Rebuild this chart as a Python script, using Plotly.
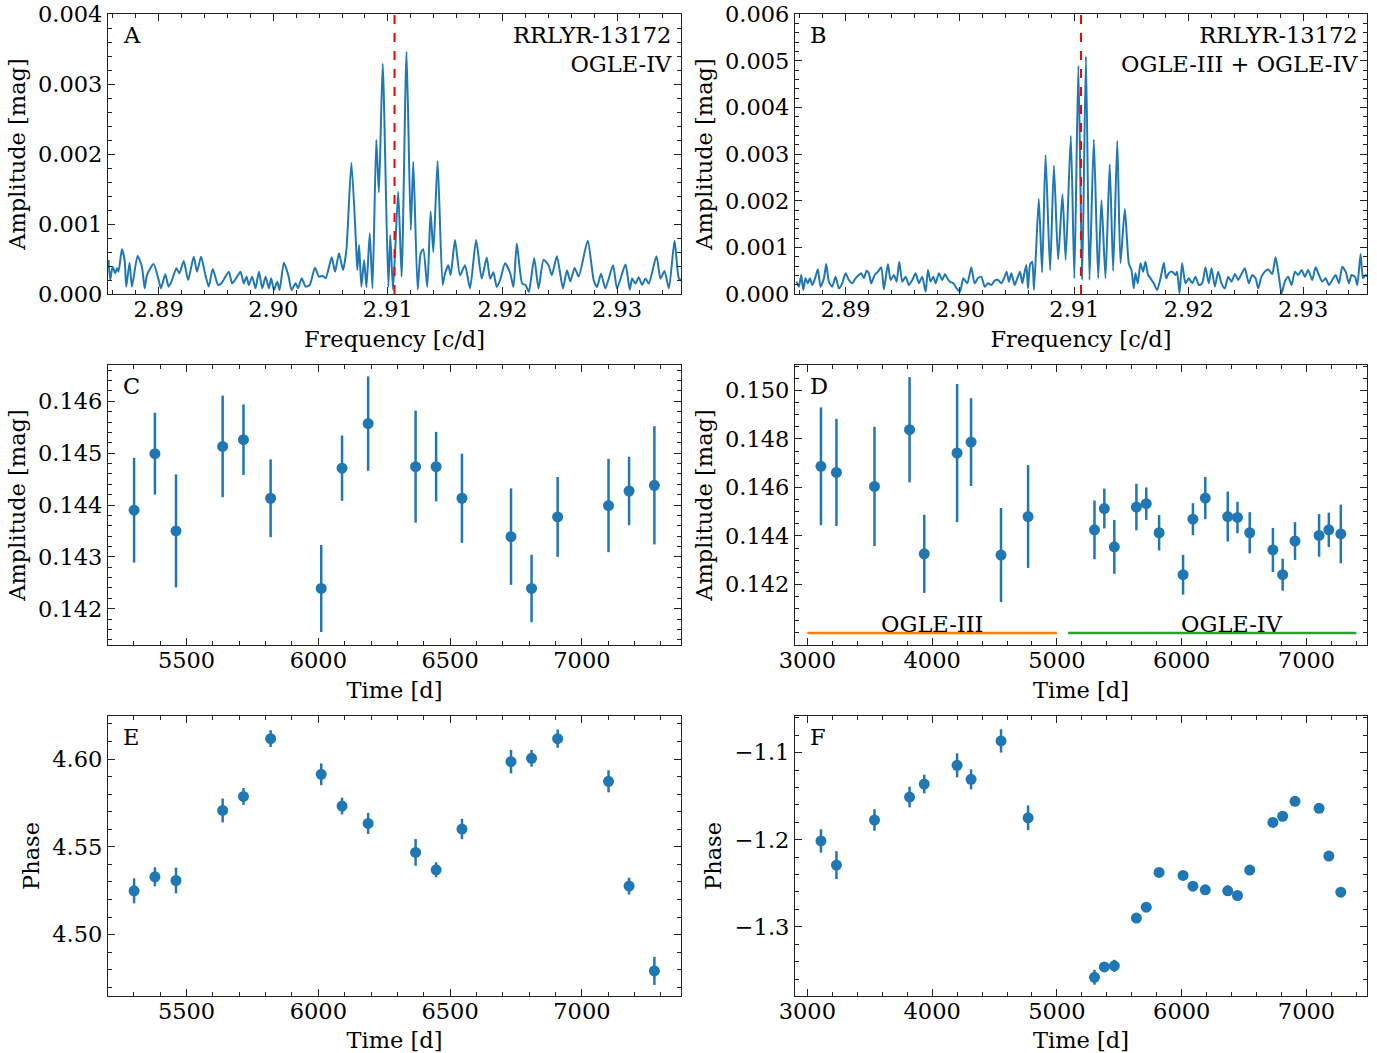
import plotly.graph_objects as go

# ---------------- DATA ----------------
main_freq = 2.91058  # red dashed marker frequency [c/d]

# Panel A periodogram (OGLE-IV): (frequency [c/d], amplitude [mag])
spec_a = [
    (2.88563, 0.000486), (2.88577, 0.000200), (2.88598, 0.000390), (2.88621, 0.000295), (2.88636, 0.000367),
    (2.88650, 0.000319), (2.88679, 0.000638), (2.88703, 0.000486), (2.88717, 0.000105), (2.88746, 0.000448),
    (2.88767, 0.000105), (2.88816, 0.000543), (2.88854, 0.000390), (2.88878, 0.000081), (2.88898, 0.000271),
    (2.88956, 0.000429), (2.89000, 0.000200), (2.89020, 0.000081), (2.89058, 0.000281), (2.89087, 0.000105),
    (2.89111, 0.000176), (2.89155, 0.000367), (2.89181, 0.000295), (2.89219, 0.000471), (2.89257, 0.000200),
    (2.89306, 0.000533), (2.89335, 0.000319), (2.89370, 0.000533), (2.89408, 0.000271), (2.89437, 0.000105),
    (2.89472, 0.000357), (2.89519, 0.000129), (2.89548, 0.000152), (2.89612, 0.000319), (2.89641, 0.000152),
    (2.89676, 0.000224), (2.89714, 0.000319), (2.89743, 0.000152), (2.89767, 0.000248), (2.89787, 0.000129),
    (2.89816, 0.000248), (2.89845, 0.000081), (2.89875, 0.000319), (2.89904, 0.000081), (2.89933, 0.000248),
    (2.89962, 0.000081), (2.89982, 0.000224), (2.90006, 0.000057), (2.90035, 0.000176), (2.90055, 0.000057),
    (2.90093, 0.000448), (2.90131, 0.000271), (2.90160, 0.000057), (2.90195, 0.000152), (2.90216, 0.000081),
    (2.90248, 0.000224), (2.90283, 0.000105), (2.90318, 0.000129), (2.90364, 0.000376), (2.90399, 0.000248),
    (2.90434, 0.000257), (2.90458, 0.000224), (2.90510, 0.000524), (2.90539, 0.000319), (2.90574, 0.000581),
    (2.90609, 0.000343), (2.90638, 0.000629), (2.90682, 0.001876), (2.90726, 0.000581), (2.90734, 0.000343),
    (2.90749, 0.000700), (2.90769, 0.000105), (2.90793, 0.000486), (2.90813, 0.000095), (2.90842, 0.000867),
    (2.90866, 0.000081), (2.90899, 0.002200), (2.90922, 0.001450), (2.90955, 0.003290), (2.91004, 0.000100),
    (2.91021, 0.000840), (2.91045, 0.000060), (2.91090, 0.001460), (2.91120, 0.000250), (2.91163, 0.003460),
    (2.91200, 0.000910), (2.91222, 0.001890), (2.91260, 0.000060), (2.91286, 0.000580), (2.91309, 0.000640),
    (2.91344, 0.000100), (2.91373, 0.001180), (2.91397, 0.000600), (2.91434, 0.001900), (2.91478, 0.000130),
    (2.91498, 0.000290), (2.91528, 0.000410), (2.91548, 0.000270), (2.91586, 0.000770), (2.91630, 0.000270),
    (2.91673, 0.000410), (2.91717, 0.000080), (2.91770, 0.000770), (2.91819, 0.000220), (2.91863, 0.000520),
    (2.91892, 0.000220), (2.91921, 0.000310), (2.91950, 0.000100), (2.91980, 0.000200), (2.92023, 0.000440),
    (2.92067, 0.000300), (2.92096, 0.000100), (2.92125, 0.000720), (2.92172, 0.000150), (2.92201, 0.000130),
    (2.92230, 0.000030), (2.92277, 0.000510), (2.92315, 0.000080), (2.92359, 0.000490), (2.92402, 0.000410),
    (2.92431, 0.000270), (2.92475, 0.000540), (2.92528, 0.000080), (2.92563, 0.000340), (2.92592, 0.000180),
    (2.92630, 0.000370), (2.92665, 0.000250), (2.92744, 0.000760), (2.92796, 0.000200), (2.92825, 0.000100),
    (2.92860, 0.000290), (2.92898, 0.000080), (2.92965, 0.000410), (2.93000, 0.000080), (2.93073, 0.000420),
    (2.93111, 0.000060), (2.93131, 0.000220), (2.93160, 0.000150), (2.93189, 0.000240), (2.93218, 0.000130),
    (2.93248, 0.000220), (2.93277, 0.000150), (2.93344, 0.000540), (2.93379, 0.000220), (2.93414, 0.000330),
    (2.93452, 0.000080), (2.93502, 0.000760), (2.93540, 0.000220), (2.93563, 0.000200),
]

# Panel B periodogram (OGLE-III + OGLE-IV)
spec_b = [
    (2.88571, 0.000264), (2.88592, 0.000157), (2.88612, 0.000407), (2.88630, 0.000086), (2.88650, 0.000336),
    (2.88671, 0.000229), (2.88688, 0.000336), (2.88709, 0.000193), (2.88729, 0.000300), (2.88758, 0.000529),
    (2.88781, 0.000157), (2.88811, 0.000336), (2.88831, 0.000643), (2.88854, 0.000264), (2.88883, 0.000157),
    (2.88913, 0.000371), (2.88942, 0.000121), (2.88971, 0.000229), (2.89000, 0.000443), (2.89029, 0.000300),
    (2.89058, 0.000229), (2.89087, 0.000336), (2.89117, 0.000407), (2.89137, 0.000443), (2.89160, 0.000336),
    (2.89184, 0.000500), (2.89204, 0.000443), (2.89224, 0.000229), (2.89254, 0.000407), (2.89283, 0.000479),
    (2.89312, 0.000571), (2.89335, 0.000100), (2.89370, 0.000643), (2.89394, 0.000300), (2.89423, 0.000407),
    (2.89446, 0.000264), (2.89469, 0.000693), (2.89496, 0.000264), (2.89525, 0.000371), (2.89554, 0.000193),
    (2.89583, 0.000300), (2.89612, 0.000443), (2.89641, 0.000229), (2.89670, 0.000371), (2.89700, 0.000050),
    (2.89720, 0.000514), (2.89743, 0.000264), (2.89767, 0.000371), (2.89787, 0.000229), (2.89816, 0.000443),
    (2.89845, 0.000300), (2.89869, 0.000429), (2.89889, 0.000336), (2.89912, 0.000264), (2.89942, 0.000229),
    (2.89971, 0.000121), (2.90000, 0.000050), (2.90029, 0.000336), (2.90064, 0.000229), (2.90099, 0.000571),
    (2.90128, 0.000229), (2.90157, 0.000336), (2.90186, 0.000371), (2.90216, 0.000157), (2.90245, 0.000229),
    (2.90274, 0.000193), (2.90303, 0.000286), (2.90332, 0.000300), (2.90361, 0.000229), (2.90385, 0.000336),
    (2.90408, 0.000479), (2.90428, 0.000264), (2.90449, 0.000443), (2.90478, 0.000193), (2.90501, 0.000336),
    (2.90525, 0.000479), (2.90545, 0.000229), (2.90560, 0.000407), (2.90580, 0.000621), (2.90595, 0.000121),
    (2.90612, 0.000621), (2.90632, 0.000693), (2.90647, 0.000086),
    (2.90689, 0.002040), (2.90718, 0.000460), (2.90748, 0.002980), (2.90788, 0.000510), (2.90821, 0.002750),
    (2.90858, 0.000740), (2.90896, 0.002140), (2.90924, 0.000730), (2.90969, 0.003390), (2.91000, 0.000340),
    (2.91035, 0.004890), (2.91068, 0.000300), (2.91101, 0.005090), (2.91132, 0.000300), (2.91170, 0.003310),
    (2.91208, 0.000340), (2.91237, 0.002010), (2.91272, 0.000340), (2.91309, 0.002780), (2.91339, 0.000500),
    (2.91375, 0.003280), (2.91403, 0.000660), (2.91441, 0.001820),
    (2.91476, 0.000657), (2.91499, 0.000514), (2.91519, 0.000121), (2.91534, 0.000443), (2.91554, 0.000229),
    (2.91578, 0.000657), (2.91601, 0.000479), (2.91621, 0.000693), (2.91645, 0.000407), (2.91665, 0.000336),
    (2.91694, 0.000229), (2.91723, 0.000086), (2.91753, 0.000336), (2.91782, 0.000671), (2.91802, 0.000336),
    (2.91825, 0.000443), (2.91855, 0.000479), (2.91884, 0.000407), (2.91898, 0.000479), (2.91919, 0.000014),
    (2.91942, 0.000657), (2.91971, 0.000229), (2.92000, 0.000336), (2.92030, 0.000229), (2.92059, 0.000371),
    (2.92088, 0.000193), (2.92117, 0.000229), (2.92146, 0.000571), (2.92175, 0.000229), (2.92199, 0.000550),
    (2.92228, 0.000157), (2.92257, 0.000479), (2.92286, 0.000229), (2.92315, 0.000121), (2.92345, 0.000371),
    (2.92374, 0.000264), (2.92403, 0.000429), (2.92432, 0.000300), (2.92461, 0.000429), (2.92490, 0.000550),
    (2.92525, 0.000229), (2.92554, 0.000407), (2.92584, 0.000336), (2.92607, 0.000121), (2.92636, 0.000371),
    (2.92665, 0.000479), (2.92694, 0.000529), (2.92729, 0.000429), (2.92759, 0.000786), (2.92788, 0.000371),
    (2.92811, 0.000014), (2.92840, 0.000264), (2.92869, 0.000371), (2.92899, 0.000193), (2.92928, 0.000479),
    (2.92957, 0.000407), (2.92986, 0.000514), (2.93015, 0.000371), (2.93044, 0.000514), (2.93079, 0.000300),
    (2.93109, 0.000571), (2.93138, 0.000407), (2.93167, 0.000264), (2.93196, 0.000336), (2.93225, 0.000193),
    (2.93254, 0.000300), (2.93284, 0.000407), (2.93313, 0.000229), (2.93342, 0.000586), (2.93371, 0.000479),
    (2.93400, 0.000229), (2.93423, 0.000407), (2.93453, 0.000371), (2.93473, 0.000193), (2.93502, 0.000857),
    (2.93523, 0.000336), (2.93546, 0.000407), (2.93563, 0.000371),
]

# Time-resolved analysis
t_ogle3 = [3109, 3233, 3538, 3819, 3937, 4200, 4312, 4552, 4769]
t_ogle4 = [5301, 5380, 5460, 5637, 5716, 5819, 6011, 6090, 6189, 6369, 6447, 6545, 6731, 6809, 6908, 7101, 7179, 7275]

amp_c = [0.14390, 0.14499, 0.14350, 0.14513, 0.14526, 0.14413, 0.14239, 0.14471, 0.14557,
         0.14474, 0.14474, 0.14413, 0.14339, 0.14239, 0.14377, 0.14399, 0.14427, 0.14438]
amp_c_err = [0.00101, 0.00079, 0.00109, 0.00098, 0.00068, 0.00075, 0.00084, 0.00063, 0.00091,
             0.00108, 0.00067, 0.00086, 0.00093, 0.00065, 0.00077, 0.00090, 0.00066, 0.00114]

amp_d3 = [0.14687, 0.14662, 0.14604, 0.14838, 0.14326, 0.14742, 0.14787, 0.14321, 0.14480]
amp_d3_err = [0.00243, 0.00221, 0.00246, 0.00217, 0.00161, 0.00285, 0.00181, 0.00194, 0.00212]
amp_d4 = [0.14425, 0.14513, 0.14355, 0.14519, 0.14533, 0.14413, 0.14240, 0.14469, 0.14556,
          0.14480, 0.14476, 0.14413, 0.14342, 0.14240, 0.14379, 0.14402, 0.14425, 0.14408]
amp_d4_err = [0.00121, 0.00082, 0.00111, 0.00096, 0.00067, 0.00073, 0.00082, 0.00066, 0.00087,
              0.00103, 0.00065, 0.00085, 0.00091, 0.00066, 0.00078, 0.00088, 0.00071, 0.00121]

phase_e = [4.5249, 4.5329, 4.5308, 4.5707, 4.5787, 4.6116, 4.5913, 4.5732, 4.5633,
           4.5468, 4.5369, 4.5601, 4.5985, 4.6004, 4.6116, 4.5873, 4.5276, 4.4793]
phase_e_err = [0.0071, 0.0054, 0.0073, 0.0068, 0.0048, 0.0048, 0.0062, 0.0048, 0.0060,
               0.0076, 0.0043, 0.0058, 0.0067, 0.0048, 0.0052, 0.0063, 0.0048, 0.0080]

phase_f3 = [-1.2015, -1.2292, -1.1774, -1.1511, -1.1361, -1.1146, -1.1307, -1.0866, -1.1749]
phase_f3_err = [0.0134, 0.0160, 0.0123, 0.0119, 0.0107, 0.0138, 0.0115, 0.0134, 0.0142]
phase_f4 = [-1.3580, -1.3461, -1.3449, -1.2900, -1.2775, -1.2376, -1.2411, -1.2534, -1.2576,
            -1.2587, -1.2641, -1.2349, -1.1802, -1.1731, -1.1560, -1.1640, -1.2188, -1.2603]
phase_f4_err = [0.0085, 0.0050, 0.0070, 0.0040, 0.0040, 0.0040, 0.0040, 0.0040, 0.0040,
                0.0060, 0.0040, 0.0040, 0.0040, 0.0040, 0.0040, 0.0040, 0.0040, 0.0050]

# Survey coverage bars in panel D
ogle3_span = [3000, 5000]
ogle4_span = [5090, 7400]
survey_level = 0.140
ogle3_label_t = 4000
ogle4_label_t = 6400

# Tick labels
ticks_d = [0.142, 0.144, 0.146, 0.148, 0.150]

# ---------------- STYLE ----------------
W, H = 1377, 1053
BLUE = "#1f77b4"
FONT = "DejaVu Serif"
FS = 22.5
INK = "#222222"

def xdom(l, r):
    return [l / W, r / W]

def ydom(t, b):
    return [1 - b / H, 1 - t / H]

cols = [(108, 681), (795, 1367)]
rows = [(14, 294), (365, 645), (716, 996)]

fig = go.Figure()

def axis(domain, anchor, rng, dtick, minor_dtick, fmt, title, tick0=None, tickvals=None,
         standoff=6, labelshift=0):
    d = dict(
        domain=domain, anchor=anchor, range=rng, dtick=dtick, tickformat=fmt, automargin=False,
        showgrid=False, zeroline=False, showline=True, linecolor=INK, linewidth=1.2,
        mirror="ticks", ticks="inside", ticklen=7, tickwidth=1.2, tickcolor=INK,
        minor=dict(ticks="inside", ticklen=4, tickwidth=1, tickcolor=INK, dtick=minor_dtick, showgrid=False),
        tickfont=dict(family=FONT, size=FS, color="black"),
        title=dict(text=title, font=dict(family=FONT, size=FS, color="black"), standoff=standoff),
    )
    if labelshift:
        d["ticklabelstandoff"] = labelshift
    if tick0 is not None:
        d["tick0"] = tick0
        d["minor"]["tick0"] = tick0
    if tickvals is not None:
        d["tickmode"] = "array"
        d["tickvals"] = tickvals
        d["ticktext"] = [format(v, fmt) for v in tickvals]
    return d

XS = dict(standoff=10, labelshift=-5)
layout = {}
# A
layout["xaxis"] = axis(xdom(*cols[0]), "y", [2.88558, 2.93558], 0.01, 0.002, ".2f", "Frequency [c/d]", 2.89, **XS)
layout["yaxis"] = axis(ydom(*rows[0]), "x", [0, 0.004], 0.001, 0.0002, ".3f", "Amplitude [mag]", 0)
# B
layout["xaxis2"] = axis(xdom(*cols[1]), "y2", [2.88558, 2.93558], 0.01, 0.002, ".2f", "Frequency [c/d]", 2.89, **XS)
layout["yaxis2"] = axis(ydom(*rows[0]), "x2", [0, 0.006], 0.001, 0.0002, ".3f", "Amplitude [mag]", 0)
# C
layout["xaxis3"] = axis(xdom(*cols[0]), "y3", [5202, 7376], 500, 100, "d", "Time [d]", 5000, **XS)
layout["yaxis3"] = axis(ydom(*rows[1]), "x3", [0.14130, 0.14670], 0.001, 0.0002, ".3f", "Amplitude [mag]", 0.142)
# D
layout["xaxis4"] = axis(xdom(*cols[1]), "y4", [2901, 7485], 1000, 200, "d", "Time [d]", 3000, **XS)
layout["yaxis4"] = axis(ydom(*rows[1]), "x4", [0.13950, 0.15105], 0.002, 0.0005, ".3f", "Amplitude [mag]", 0.142,
                        tickvals=ticks_d)
# E
layout["xaxis5"] = axis(xdom(*cols[0]), "y5", [5202, 7376], 500, 100, "d", "Time [d]", 5000, **XS)
layout["yaxis5"] = axis(ydom(*rows[2]), "x5", [4.4650, 4.6245], 0.05, 0.01, ".2f", "Phase", 4.5)
# F
layout["xaxis6"] = axis(xdom(*cols[1]), "y6", [2901, 7485], 1000, 200, "d", "Time [d]", 3000, **XS)
layout["yaxis6"] = axis(ydom(*rows[2]), "x6", [-1.3795, -1.0580], 0.1, 0.02, ".1f", "Phase", -1.3)

# Periodograms
fa, aa = zip(*spec_a)
fb, ab = zip(*spec_b)
fig.add_trace(go.Scatter(x=fa, y=aa, mode="lines", line=dict(color=BLUE, width=2, shape="spline", smoothing=0.6),
                         xaxis="x", yaxis="y", showlegend=False))
fig.add_trace(go.Scatter(x=fb, y=ab, mode="lines", line=dict(color=BLUE, width=2, shape="spline", smoothing=0.6),
                         xaxis="x2", yaxis="y2", showlegend=False))

def pts(x, y, e, xa, ya):
    fig.add_trace(go.Scatter(
        x=x, y=y, mode="markers", xaxis=xa, yaxis=ya, showlegend=False,
        marker=dict(color=BLUE, size=11, line=dict(width=0)),
        error_y=dict(type="data", array=e, visible=True, thickness=2.5, width=0, color=BLUE),
    ))

pts(t_ogle4, amp_c, amp_c_err, "x3", "y3")
pts(t_ogle3 + t_ogle4, amp_d3 + amp_d4, amp_d3_err + amp_d4_err, "x4", "y4")
pts(t_ogle4, phase_e, phase_e_err, "x5", "y5")
pts(t_ogle3 + t_ogle4, phase_f3 + phase_f4, phase_f3_err + phase_f4_err, "x6", "y6")

# Survey coverage lines
fig.add_trace(go.Scatter(x=ogle3_span, y=[survey_level] * 2, mode="lines", line=dict(color="#ff7f0e", width=2.5),
                         xaxis="x4", yaxis="y4", showlegend=False))
fig.add_trace(go.Scatter(x=ogle4_span, y=[survey_level] * 2, mode="lines", line=dict(color="#2ca02c", width=2.5),
                         xaxis="x4", yaxis="y4", showlegend=False))

shapes = []
for xr, yr in (("x", "y"), ("x2", "y2")):
    shapes.append(dict(type="line", xref=xr, yref=yr + " domain", x0=main_freq, x1=main_freq, y0=0, y1=1,
                       line=dict(color="red", width=2, dash="dash"), layer="above"))

ann = []
labels = ["A", "B", "C", "D", "E", "F"]
for i, lab in enumerate(labels):
    s = "" if i == 0 else str(i + 1)
    ann.append(dict(text=lab, xref="x" + s + " domain", yref="y" + s + " domain", x=0.022, y=0.98,
                    xanchor="left", yanchor="top", showarrow=False,
                    font=dict(family=FONT, size=FS, color="black")))
ann.append(dict(text="RRLYR-13172<br>OGLE-IV", xref="x domain", yref="y domain", x=0.988, y=0.98,
                xanchor="right", yanchor="top", align="right", showarrow=False,
                font=dict(family=FONT, size=FS, color="black")))
ann.append(dict(text="RRLYR-13172<br>OGLE-III + OGLE-IV", xref="x2 domain", yref="y2 domain", x=0.988, y=0.98,
                xanchor="right", yanchor="top", align="right", showarrow=False,
                font=dict(family=FONT, size=FS, color="black")))
ann.append(dict(text="OGLE-III", xref="x4", yref="y4", x=ogle3_label_t, y=survey_level, yshift=9,
                xanchor="center", yanchor="middle", showarrow=False,
                font=dict(family=FONT, size=FS, color="black")))
ann.append(dict(text="OGLE-IV", xref="x4", yref="y4", x=ogle4_label_t, y=survey_level, yshift=9,
                xanchor="center", yanchor="middle", showarrow=False,
                font=dict(family=FONT, size=FS, color="black")))

fig.update_layout(
    **layout,
    width=W, height=H, autosize=False,
    margin=dict(l=0, r=0, t=0, b=0, autoexpand=False),
    paper_bgcolor="white", plot_bgcolor="white",
    shapes=shapes, annotations=ann,
    font=dict(family=FONT, size=FS, color="black"),
)

fig.write_html("out.html")
